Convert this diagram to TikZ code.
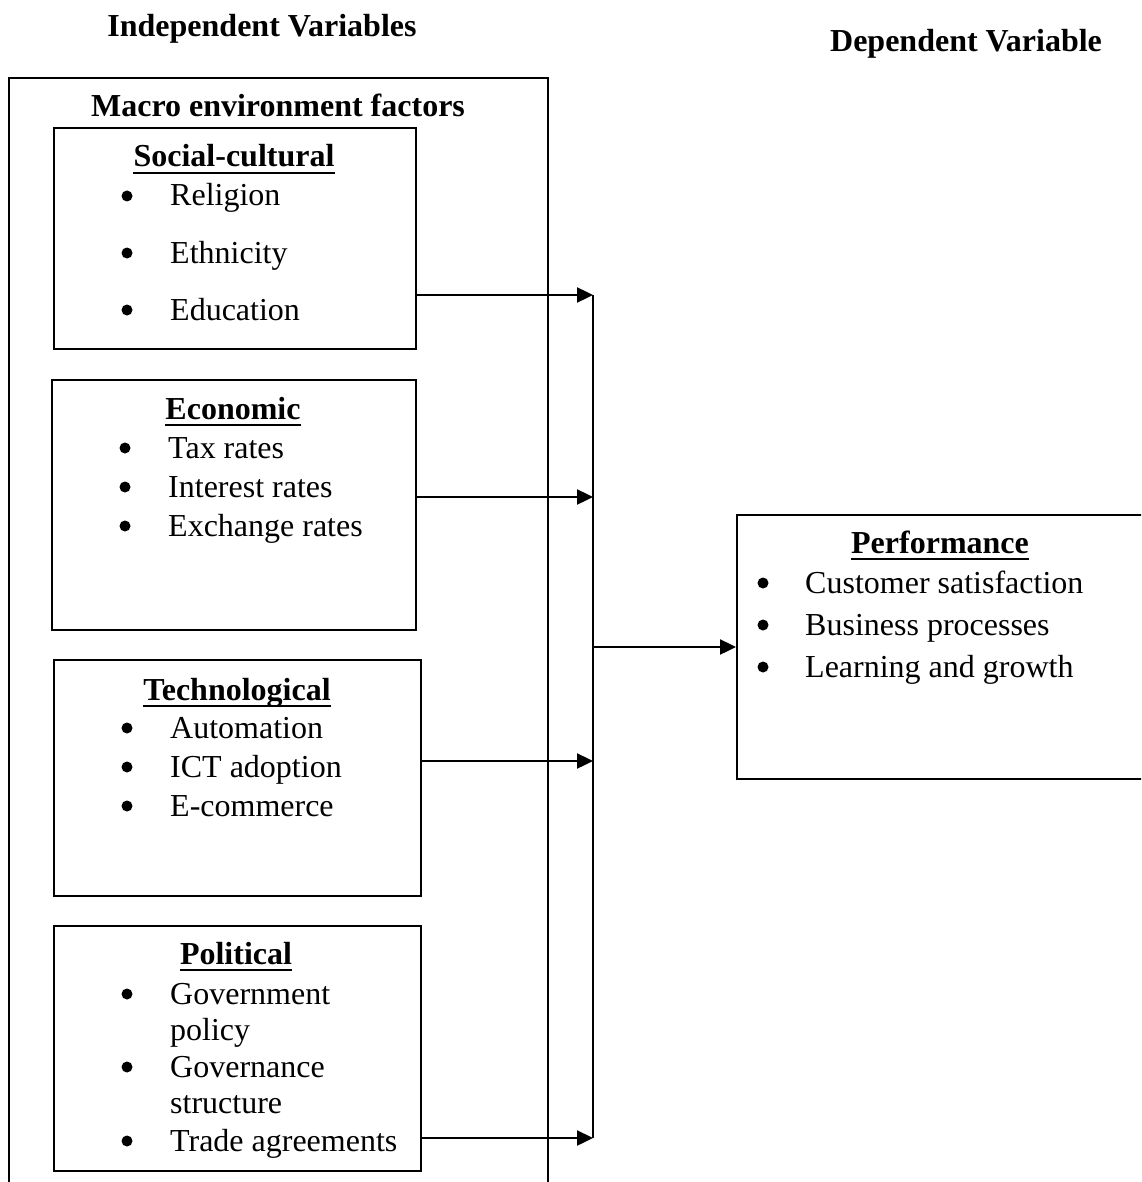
\documentclass[tikz,border=0pt]{standalone}
\usepackage{fontspec}
\setmainfont{Liberation Serif}
\usetikzlibrary{arrows.meta}
\begin{document}
\begin{tikzpicture}[x=1pt,y=-1pt,
  box/.style={draw, line width=1.8pt, rectangle, inner sep=0pt, anchor=north west},
  txt/.style={inner sep=0pt, anchor=base west, font=\fontsize{32}{38}\selectfont},
  ttl/.style={inner sep=0pt, anchor=base, font=\fontsize{32}{38}\selectfont\bfseries},
  arr/.style={line width=2.4pt, -{Triangle[length=16pt,width=15pt]}},
  bus/.style={line width=2pt},
  uline/.style={line width=2.6pt},
  dot/.style={fill=black}]
\useasboundingbox (0,0) rectangle (1141,1182);
\clip (0,0) rectangle (1141,1182);

% headings
\node[ttl] (indep) at (262,37) {Independent Variables};
\node[ttl] (dep) at (966,52) {Dependent Variable};

% outer box
\node[box, line width=1.6pt, minimum width=539pt, minimum height=1200pt] (outer) at (8,77) {};
\node[ttl] (macro) at (278,117) {Macro environment factors};

% Social-cultural
\node[box, minimum width=362pt, minimum height=221pt] (soc) at (53,127) {};
\node[ttl] (soct) at (234,167) {Social-cultural};
\draw[uline] ([yshift=-6pt]soct.base west) -- ([yshift=-6pt]soct.base east);
\node[txt] (soc1) at (170,206) {Religion};
\node[txt] (soc2) at (170,263) {Ethnicity};
\node[txt] (soc3) at (170,320) {Education};
\fill[dot] (127,196) circle[radius=5.5pt];
\fill[dot] (127,253) circle[radius=5.5pt];
\fill[dot] (127,310) circle[radius=5.5pt];

% Economic
\node[box, minimum width=364pt, minimum height=250pt] (eco) at (51,379) {};
\node[ttl] (ecot) at (233,419) {Economic};
\draw[uline] ([yshift=-6pt]ecot.base west) -- ([yshift=-6pt]ecot.base east);
\node[txt] (eco1) at (168,458) {Tax rates};
\node[txt] (eco2) at (168,497) {Interest rates};
\node[txt] (eco3) at (168,536) {Exchange rates};
\fill[dot] (125,448) circle[radius=5.5pt];
\fill[dot] (125,487) circle[radius=5.5pt];
\fill[dot] (125,526) circle[radius=5.5pt];

% Technological
\node[box, minimum width=367pt, minimum height=236pt] (tec) at (53,659) {};
\node[ttl] (tect) at (237,700) {Technological};
\draw[uline] ([yshift=-6pt]tect.base west) -- ([yshift=-6pt]tect.base east);
\node[txt] (tec1) at (170,738) {Automation};
\node[txt] (tec2) at (170,777) {ICT adoption};
\node[txt] (tec3) at (170,816) {E-commerce};
\fill[dot] (127,728) circle[radius=5.5pt];
\fill[dot] (127,767) circle[radius=5.5pt];
\fill[dot] (127,806) circle[radius=5.5pt];

% Political
\node[box, minimum width=367pt, minimum height=245pt] (pol) at (53,925) {};
\node[ttl] (polt) at (236,964) {Political};
\draw[uline] ([yshift=-6pt]polt.base west) -- ([yshift=-6pt]polt.base east);
\node[txt] (pol1) at (170,1004) {Government};
\node[txt] (pol2) at (170,1040) {policy};
\node[txt] (pol3) at (170,1077) {Governance};
\node[txt] (pol4) at (170,1113) {structure};
\node[txt] (pol5) at (170,1151) {Trade agreements};
\fill[dot] (127,994) circle[radius=5.5pt];
\fill[dot] (127,1067) circle[radius=5.5pt];
\fill[dot] (127,1141) circle[radius=5.5pt];

% Performance
\node[box, minimum width=420pt, minimum height=264pt] (perf) at (736,514) {};
\node[ttl] (perft) at (940,553) {Performance};
\draw[uline] ([yshift=-6pt]perft.base west) -- ([yshift=-6pt]perft.base east);
\node[txt] (perf1) at (805,593) {Customer satisfaction};
\node[txt] (perf2) at (805,635) {Business processes};
\node[txt] (perf3) at (805,677) {Learning and growth};
\fill[dot] (763,583) circle[radius=5.5pt];
\fill[dot] (763,625) circle[radius=5.5pt];
\fill[dot] (763,667) circle[radius=5.5pt];

% connectors
\coordinate (b1) at (593,295);
\coordinate (b2) at (593,497);
\coordinate (b3) at (593,761);
\coordinate (b4) at (593,1138);
\coordinate (bm) at (593,647);
\draw[bus] (b1) -- (b4);
\draw[arr] (soc.east |- b1) -- (b1);
\draw[arr] (eco.east |- b2) -- (b2);
\draw[arr] (tec.east |- b3) -- (b3);
\draw[arr] (pol.east |- b4) -- (b4);
\draw[arr] (bm) -- (perf.west |- bm);
\end{tikzpicture}
\end{document}
